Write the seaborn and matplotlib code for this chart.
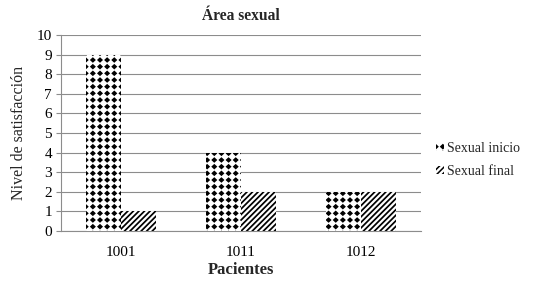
import numpy as np
import matplotlib
matplotlib.use("Agg")
import matplotlib.pyplot as plt
import matplotlib.hatch as mhatch
from matplotlib.path import Path
import seaborn as sns
import pandas as pd

# ---- data ----
pacientes = ["1001", "1011", "1012"]
sexual_inicio = [9, 4, 2]
sexual_final = [1, 2, 2]
series = ["Sexual inicio", "Sexual final"]
y_ticks = list(range(0, 11))


# ---- custom hatches ----
class DiamondGrid(mhatch.HatchPatternBase):
    """Grid of filled diamonds, triggered by '*'."""
    filled = True

    def __init__(self, hatch, density):
        self.ncols = 14
        self.nrows = 15
        self.num_vertices = (self.ncols + 1) * (self.nrows + 1) * 5 if '*' in hatch else 0

    def set_vertices_and_codes(self, vertices, codes):
        hw = 0.28 / self.ncols
        hh = 0.28 / self.nrows
        shape = np.array([[0, -hh], [hw, 0], [0, hh], [-hw, 0], [0, -hh]])
        sc = np.array([Path.MOVETO, Path.LINETO, Path.LINETO, Path.LINETO, Path.CLOSEPOLY],
                      dtype=Path.code_type)
        parts, cparts = [], []
        for r in range(self.nrows + 1):
            for c in range(self.ncols + 1):
                parts.append(shape + [c / self.ncols, r / self.nrows])
                cparts.append(sc)
        np.concatenate(parts, out=vertices)
        np.concatenate(cparts, out=codes)


class DenseNE(mhatch.HatchPatternBase):
    """Dense north-east diagonal lines, triggered by '/'."""

    def __init__(self, hatch, density):
        self.num_lines = 36 if '/' in hatch else 0
        self.num_vertices = (self.num_lines + 1) * 2 if self.num_lines else 0

    def set_vertices_and_codes(self, vertices, codes):
        steps = np.linspace(-0.5, 0.5, self.num_lines + 1)
        vertices[0::2, 0] = 0.0 + steps
        vertices[0::2, 1] = 0.0 - steps
        vertices[1::2, 0] = 1.0 + steps
        vertices[1::2, 1] = 1.0 - steps
        codes[0::2] = Path.MOVETO
        codes[1::2] = Path.LINETO


mhatch._hatch_types = [t for t in mhatch._hatch_types
                       if t is not mhatch.Stars and t is not mhatch.NorthEastHatch] + [DiamondGrid, DenseNE]

sns.set_theme(style="white")
plt.rcParams["font.family"] = ["Liberation Serif", "DejaVu Serif"]
plt.rcParams["hatch.linewidth"] = 1.1

df = pd.DataFrame({
    "Paciente": pacientes * 2,
    "Nivel": sexual_inicio + sexual_final,
    "Serie": [series[0]] * 3 + [series[1]] * 3,
})

fig = plt.figure(figsize=(5.41, 2.81), dpi=100)
ax = fig.add_axes([61 / 541, 1 - 231 / 281, (421 - 61) / 541, (231 - 35) / 281])

sns.barplot(data=df, x="Paciente", y="Nivel", hue="Serie", order=pacientes,
            hue_order=series, palette=["white", "white"], width=0.58,
            edgecolor="black", linewidth=0, legend=False, ax=ax, zorder=3)

hatches = ["*", "/"]
hatch_lw = [1.0, 1.25]
for cont, h, hl in zip(ax.containers, hatches, hatch_lw):
    for p in cont.patches:
        p.set_hatch(h)
        p.set_facecolor("white")
        p.set_edgecolor("black")
        p.set_linewidth(0)
        if hasattr(p, "set_hatch_linewidth"):
            p.set_hatch_linewidth(hl)

ax.set_ylim(0, 10)
ax.set_yticks(y_ticks)
ax.set_xlim(-0.5, 2.5)
grid_c = "#8c8c8c"
ax.yaxis.grid(True, color=grid_c, linewidth=0.8, zorder=0)
ax.set_axisbelow(True)
for s in ["top", "right"]:
    ax.spines[s].set_visible(False)
for s in ["left", "bottom"]:
    ax.spines[s].set_color(grid_c)
    ax.spines[s].set_linewidth(0.8)

ax.tick_params(axis="y", which="both", left=True, length=3.5, width=0.8, color=grid_c,
               labelsize=11, pad=3, labelcolor="black")
ax.tick_params(axis="x", bottom=False, labelsize=11, pad=5, labelcolor="black")

ax.set_xlabel("Pacientes", fontsize=12, fontweight="bold", labelpad=2)
ax.set_ylabel("Nivel de satisfacción", fontsize=11.5, labelpad=7)
ax.set_title("Área sexual", fontsize=11.2, fontweight="bold", pad=11)

ax.legend(handles=list(ax.containers), labels=series, loc="center left",
          bbox_to_anchor=(436 / 541, 1 - 160 / 281), bbox_transform=fig.transFigure,
          frameon=False, fontsize=10, handlelength=0.55, handleheight=0.55,
          handletextpad=0.25, labelspacing=0.7, borderaxespad=0, borderpad=0)

fig.savefig("out.png", dpi=100)
